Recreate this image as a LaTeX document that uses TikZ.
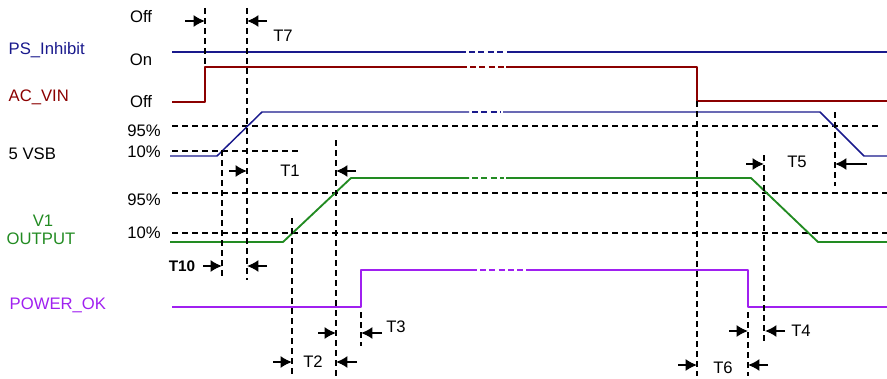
\documentclass[tikz,border=0pt]{standalone}
\usepackage{fontspec}
\setmainfont{Liberation Sans}
\usetikzlibrary{arrows.meta}
\definecolor{navy}{RGB}{25,25,140}
\definecolor{acred}{RGB}{139,0,0}
\definecolor{vgreen}{RGB}{34,139,34}
\definecolor{okpurple}{RGB}{160,32,240}
\begin{document}
\begin{tikzpicture}[x=0.75pt,y=-0.75pt,>={Latex[length=8.5pt,width=9pt]}, font=\fontsize{12.5}{14}\selectfont, line join=round,
    guide/.style={dash pattern=on 4.5pt off 3pt,line width=0.9pt},
    brk/.style={dash pattern=on 4.5pt off 2.5pt},
    dim/.style={->,line width=1.3pt}]
                \useasboundingbox (0,0) rectangle (887,378);
                % signal names and levels
                \node[navy,right] (inh) at (4,50) {PS\_Inhibit};
                \node[acred,right] (acvin) at (4,97) {AC\_VIN};
                \node[right] (vsb) at (4,154) {5 VSB};
                \node[vgreen] (vone) at (43,221) {V1};
                \node[vgreen] (vout) at (41,239) {OUTPUT};
                \node[okpurple,right] (pok) at (5,305) {POWER\_OK};
                \node (off1) at (141,17) {Off};
                \node (on) at (141,60) {On};
                \node (off2) at (141,102) {Off};
                \node (vsbhi) at (144,131) {95\%};
                \node (vsblo) at (144,152) {10\%};
                \node (vonehi) at (144,200) {95\%};
                \node (vonelo) at (144,233) {10\%};
                % threshold lines
                \draw[guide] (172,126)--(880,126);
                \draw[guide] (172,151)--(298,151);
                \draw[guide] (172,193)--(887,193);
                \draw[guide] (172,233)--(887,233);
                % waveforms
                \draw[navy,line width=1.5pt] (172,52)--(466,52) (507,52)--(887,52);
                \draw[navy,line width=1.5pt,brk] (469,52)--(505,52);
                \draw[acred,line width=2pt] (172,102)--(205,102)--(205,67)--(467,67) (506,67)--(697,67)--(697,101)--(887,101);
                \draw[acred,line width=2pt,brk] (470,67)--(504,67);
                \draw[navy,line width=1.1pt] (170,156)--(217,156)--(262,112)--(469,112) (503,112)--(820,112)--(864,156)--(887,156);
                \draw[navy,line width=1.1pt,brk] (472,112)--(501,112);
                \draw[vgreen,line width=1.4pt] (170,242)--(283,242)--(351,178)--(469,178) (506,178)--(751,178)--(818,242)--(887,242);
                \draw[vgreen,line width=1.4pt,brk] (472,178)--(504,178);
                \draw[okpurple,line width=1.5pt] (172,307)--(361,307)--(361,270)--(477,270) (526,270)--(748,270)--(748,307)--(887,307);
                \draw[okpurple,line width=1.5pt,brk] (480,270)--(524,270);
                % time markers
                \draw[guide] (205,8)--(205,64);
                \draw[guide] (247,8)--(247,280);
                \draw[guide] (222,150)--(222,280);
                \draw[guide] (292,218)--(292,376);
                \draw[guide] (336,140)--(336,376);
                \draw[guide] (361,312)--(361,346);
                \draw[guide] (697,101)--(697,376);
                \draw[guide] (835,112)--(835,186);
                \draw[guide] (764,155)--(764,342);
                \draw[guide] (748,312)--(748,376);
                \foreach \xa/\xb/\y in {185/205/21, 267/247/21, 229/247/171, 356/336/171, 203/222/266, 267/247/266,
                    273/292/362, 357/336/362, 318/336/333, 382/361/333, 746/764/164, 867/835/164,
                    729/748/331, 785/765/331, 678/697/365, 768/748/365}
                    \draw[dim] (\xa,\y)--(\xb,\y);
                \node (t7) at (283,36) {T7};
                \node (t1) at (290,171) {T1};
                \node[font=\fontsize{11.5}{13}\selectfont\bfseries] (t10) at (182,266) {T10};
                \node (t2) at (313,362) {T2};
                \node (t3) at (396,327) {T3};
                \node (t5) at (797,162) {T5};
                \node (t4) at (801,331) {T4};
                \node (t6) at (723,368) {T6};
            \end{tikzpicture}
\end{document}
